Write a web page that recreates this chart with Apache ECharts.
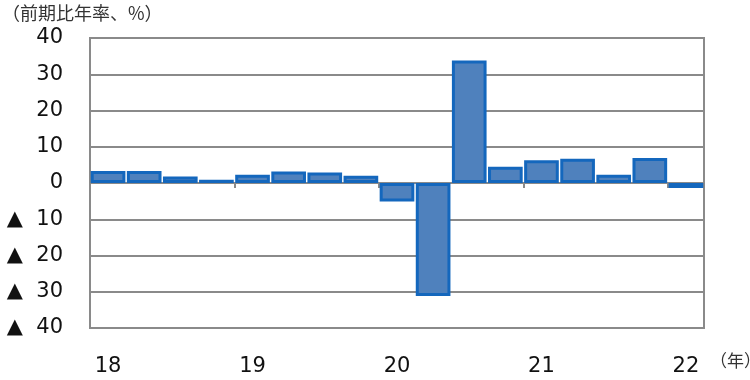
<!DOCTYPE html>
<html><head><meta charset="utf-8">
<script src="https://cdn.jsdelivr.net/npm/echarts@6/dist/echarts.min.js"></script>
<style>html,body{margin:0;padding:0;background:#fff}#c{width:750px;height:380px}</style>
</head><body><div id="c"></div>
<script>
const categories = ['18Q1','18Q2','18Q3','18Q4','19Q1','19Q2','19Q3','19Q4','20Q1','20Q2','20Q3','20Q4','21Q1','21Q2','21Q3','21Q4','22Q1'];
const yearLabels = ['18','','','','19','','','','20','','','','21','','','','22'];
const values = [3.3, 3.3, 1.8, 0.9, 2.3, 3.2, 2.9, 2.0, -5.1, -31.2, 33.8, 4.5, 6.3, 6.7, 2.3, 6.9, -1.4];
const yTicks = {min: -40, max: 40, interval: 10};
const unitTitle = '（前期比年率、%）';
const xUnit = '（年）';

const chart = echarts.init(document.getElementById('c'), null, {renderer: 'canvas'});
const gridColor = '#8a8a8a';
chart.setOption({
  animation: false,
  textStyle: {fontFamily: 'DejaVu Sans'},
  graphic: [
    {type: 'text', left: 2, top: 4, style: {text: unitTitle, font: '18px "Noto Sans CJK JP"', fill: '#333'}},
    {type: 'text', left: 710, top: 352, style: {text: xUnit, font: '17px "Noto Sans CJK JP"', fill: '#333'}}
  ],
  grid: {left: 90, right: 46, top: 38, bottom: 52, show: true, borderColor: gridColor, borderWidth: 2, containLabel: false},
  xAxis: [
    {type: 'category', data: categories, boundaryGap: true,
     axisLine: {onZero: true, lineStyle: {color: gridColor, width: 2}},
     axisTick: {show: true, length: 5, interval: function (i) { return i % 4 === 0; }, lineStyle: {color: gridColor, width: 2}},
     axisLabel: {show: false}, splitLine: {show: false}},
    {type: 'category', data: categories, position: 'bottom', boundaryGap: true,
     axisLine: {show: false, onZero: false}, axisTick: {show: false},
     axisLabel: {show: true, interval: 0, margin: 28, fontSize: 21, color: '#111', fontFamily: 'DejaVu Sans',
       formatter: function (v, i) { return yearLabels[i]; }},
     splitLine: {show: false}}
  ],
  yAxis: {type: 'value', min: yTicks.min, max: yTicks.max, interval: yTicks.interval,
    axisLine: {show: true, lineStyle: {color: gridColor, width: 2}},
    axisTick: {show: false},
    splitLine: {show: true, lineStyle: {color: gridColor, width: 2}},
    axisLabel: {margin: 27, fontSize: 21, color: '#111', fontFamily: 'DejaVu Sans',
      formatter: function (v) { return v < 0 ? '▲  ' + (-v) : String(v); }}
  },
  series: [{
    type: 'bar', data: values, xAxisIndex: 0, barWidth: '96%',
    itemStyle: {color: '#4f81bd', borderColor: '#1467bd', borderWidth: 3}
  }]
});
</script></body></html>
